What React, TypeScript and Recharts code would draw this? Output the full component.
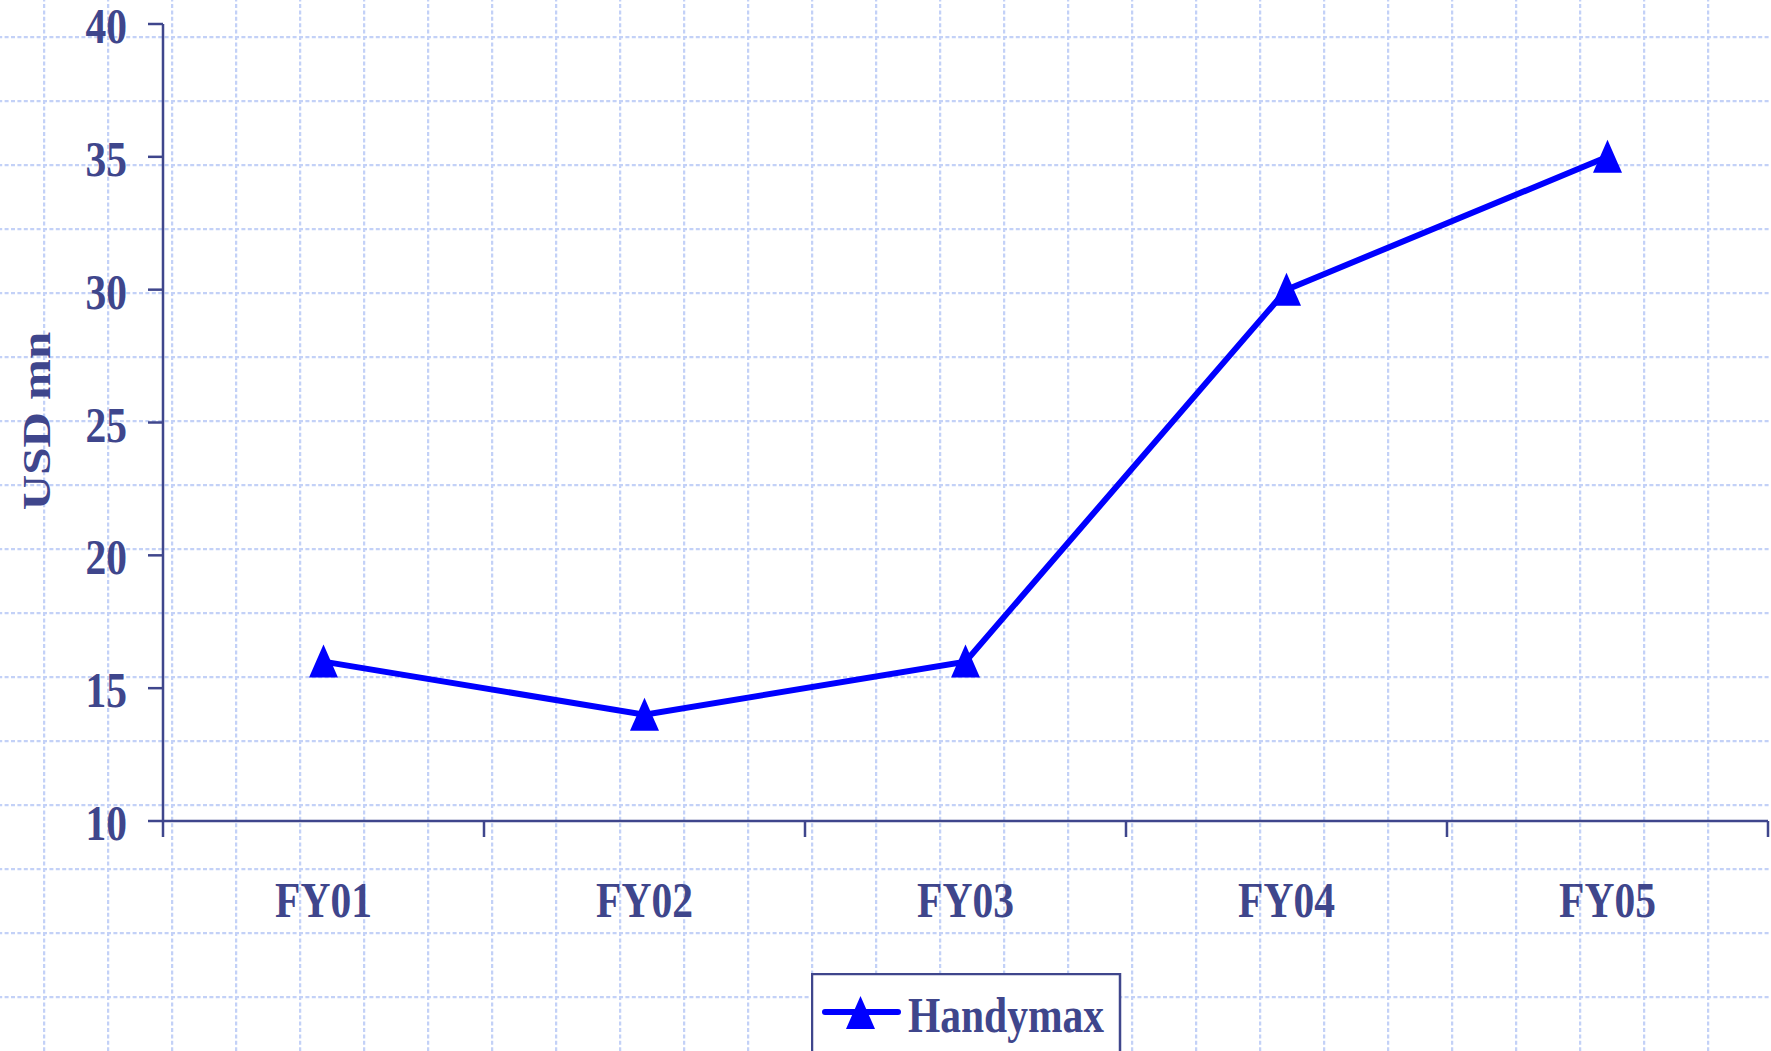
import React from 'react';
import { LineChart, Line, XAxis, YAxis, Legend } from 'recharts';

const years = ['FY01', 'FY02', 'FY03', 'FY04', 'FY05'];
const handymax = [16, 14, 16, 30, 35];
const yTicks = [10, 15, 20, 25, 30, 35, 40];

const data = years.map((year, i) => ({ year, handymax: handymax[i] }));

const W = 1771;
const H = 1051;
const INK = '#3f468c';
const BLUE = '#0000ff';
const GRID = '#c3d1f7';
const FONT = '"Liberation Serif", "Times New Roman", serif';
const SQUEEZE = 0.83;
const PLOT_LEFT = 163;
const PLOT_RIGHT = 1768;
const BAND = (PLOT_RIGHT - PLOT_LEFT) / years.length;

const Triangle = ({ cx, cy }: { cx: number; cy: number }) => (
  <polygon points={`${cx},${cy - 17} ${cx - 14.5},${cy + 16} ${cx + 14.5},${cy + 16}`} fill={BLUE} />
);

const XTick = (props: any) => {
  const { x, y, payload, index } = props;
  const half = BAND / 2;
  return (
    <g>
      <line x1={x - half} y1={y} x2={x - half} y2={y + 16} stroke={INK} strokeWidth={2.5} />
      {index === years.length - 1 && (
        <line x1={x + half} y1={y} x2={x + half} y2={y + 16} stroke={INK} strokeWidth={2.5} />
      )}
      <text
        transform={`translate(${x},${y + 96}) scale(${SQUEEZE},1)`}
        textAnchor="middle"
        fill={INK}
        fontFamily={FONT}
        fontWeight="bold"
        fontSize={50}
      >
        {payload.value}
      </text>
    </g>
  );
};

const YTick = (props: any) => {
  const { x, y, payload } = props;
  return (
    <text
      transform={`translate(${x - 21},${y + 19}) scale(${SQUEEZE},1)`}
      textAnchor="end"
      fill={INK}
      fontFamily={FONT}
      fontWeight="bold"
      fontSize={50}
    >
      {payload.value}
    </text>
  );
};

const YLabel = () => (
  <text
    transform={`translate(50,421) rotate(-90) scale(1,${SQUEEZE})`}
    textAnchor="middle"
    fill={INK}
    fontFamily={FONT}
    fontWeight="bold"
    fontSize={49}
  >
    USD mn
  </text>
);

const LegendBox = () => (
  <svg width={312} height={78} style={{ display: 'block' }}>
    <rect x={1} y={1} width={308} height={120} fill="#ffffff" stroke={INK} strokeWidth={2.5} />
    <line x1={14} y1={39} x2={87} y2={39} stroke={BLUE} strokeWidth={6} strokeLinecap="round" />
    <Triangle cx={49.5} cy={40} />
    <text
      transform={`translate(97,59) scale(${SQUEEZE},1)`}
      fill={INK}
      fontFamily={FONT}
      fontWeight="bold"
      fontSize={50}
    >
      Handymax
    </text>
  </svg>
);

const PageGrid = () => (
  <svg width={W} height={H} style={{ position: 'absolute', left: 0, top: 0 }}>
    <defs>
      <pattern id="pg" x={43} y={36} width={64} height={64} patternUnits="userSpaceOnUse">
        <line x1={0} y1={1} x2={64} y2={1} stroke={GRID} strokeWidth={2.5} strokeDasharray="4 2.4" />
        <line x1={1} y1={0} x2={1} y2={64} stroke={GRID} strokeWidth={2.5} strokeDasharray="4 2.4" />
      </pattern>
    </defs>
    <rect x={0} y={0} width={W} height={H} fill="url(#pg)" />
  </svg>
);

export default function App() {
  return (
    <div style={{ position: 'absolute', left: 0, top: 0, width: W, height: H, background: '#ffffff', overflow: 'hidden' }}>
      <PageGrid />
      <div style={{ position: 'absolute', left: 0, top: 0 }}>
        <LineChart width={W} height={H} data={data} margin={{ top: 24, right: W - PLOT_RIGHT, bottom: 0, left: 0 }}>
          <XAxis
            dataKey="year"
            height={230}
            padding={{ left: BAND / 2, right: BAND / 2 }}
            axisLine={{ stroke: INK, strokeWidth: 2.5 }}
            tickLine={false}
            tickSize={0}
            tickMargin={0}
            tick={<XTick />}
            interval={0}
          />
          <YAxis
            type="number"
            domain={[10, 40]}
            ticks={yTicks}
            interval={0}
            width={PLOT_LEFT}
            axisLine={{ stroke: INK, strokeWidth: 2.5 }}
            tickLine={{ stroke: INK, strokeWidth: 2.5 }}
            tickSize={15}
            tickMargin={0}
            tick={<YTick />}
            label={<YLabel />}
          />
          <Legend
            layout="horizontal"
            verticalAlign="middle"
            align="center"
            wrapperStyle={{ left: 811, top: 973, width: 312, height: 78 }}
            content={<LegendBox />}
          />
          <Line
            type="linear"
            dataKey="handymax"
            name="Handymax"
            stroke={BLUE}
            strokeWidth={6}
            dot={(p: any) => <Triangle key={`t${p.index}`} cx={p.cx} cy={p.cy} />}
            activeDot={false}
            isAnimationActive={false}
          />
        </LineChart>
      </div>
    </div>
  );
}
